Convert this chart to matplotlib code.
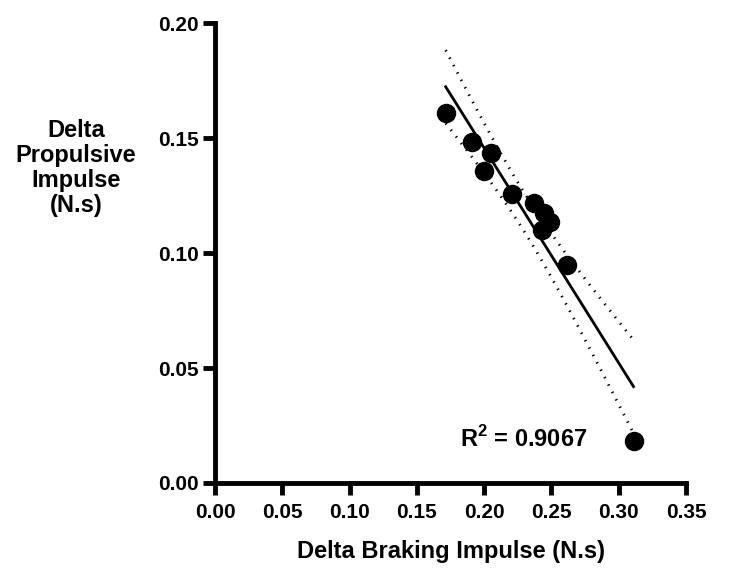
import numpy as np
import matplotlib
matplotlib.use("Agg")
import matplotlib.pyplot as plt

plt.rcParams['font.family'] = ['Liberation Sans', 'DejaVu Sans']
plt.rcParams['font.weight'] = 'bold'
plt.rcParams['mathtext.fontset'] = 'custom'
plt.rcParams['mathtext.rm'] = 'Liberation Sans:bold'
plt.rcParams['mathtext.bf'] = 'Liberation Sans:bold'

# data
braking = [0.1714, 0.1913, 0.2051, 0.1996, 0.2210, 0.2370, 0.2444, 0.2489, 0.2427, 0.2613, 0.3110]
propulsive = [0.1607, 0.1484, 0.1436, 0.1358, 0.1257, 0.1216, 0.1175, 0.1136, 0.1100, 0.0948, 0.0183]
r2_text = r"R$^{\mathbf{2}}$ = 0.9067"
x_ticks = [0.00, 0.05, 0.10, 0.15, 0.20, 0.25, 0.30, 0.35]
y_ticks = [0.00, 0.05, 0.10, 0.15, 0.20]

x = np.array(braking)
y = np.array(propulsive)

# linear fit + 95% confidence band
slope, inter = np.polyfit(x, y, 1)
n = len(x)
resid = y - (slope * x + inter)
s = np.sqrt(np.sum(resid ** 2) / (n - 2))
t = 2.262  # t(0.975, df=9)
xs = np.linspace(x.min(), x.max(), 100)
ys = slope * xs + inter
se = s * np.sqrt(1.0 / n + (xs - x.mean()) ** 2 / np.sum((x - x.mean()) ** 2))

fig = plt.figure(figsize=(7.29, 5.72), dpi=100)
ax = fig.add_axes([0.295, 0.1556, 0.646, 0.804])

ax.plot(xs, ys, color='black', lw=2)
ax.plot(xs, ys + t * se, color='black', lw=2, linestyle=(0, (0.5, 2.5)))
ax.plot(xs, ys - t * se, color='black', lw=2, linestyle=(0, (0.5, 2.5)))
ax.plot(x, y, 'o', color='black', markersize=13, zorder=3)

ax.text(0.182, 0.019, r2_text, fontsize=17, fontweight='bold', va='center', ha='left')

ax.set_xlim(0, 0.35)
ax.set_ylim(0, 0.20)
ax.set_xticks(x_ticks)
ax.set_yticks(y_ticks)
ax.set_xticklabels(["%.2f" % v for v in x_ticks])
ax.set_yticklabels(["%.2f" % v for v in y_ticks])
ax.tick_params(axis='both', width=3.5, length=8.5, labelsize=15, direction='out')
ax.tick_params(axis='x', pad=6)
for lab in ax.get_xticklabels() + ax.get_yticklabels():
    lab.set_fontweight('bold')

for side in ['top', 'right']:
    ax.spines[side].set_visible(False)
for side in ['left', 'bottom']:
    ax.spines[side].set_linewidth(3.5)

ax.set_xlabel("Delta Braking Impulse (N.s)", fontsize=17, fontweight='bold', labelpad=13)
fig.text(0.104, 0.706, "Delta\nPropulsive\nImpulse\n(N.s)", fontsize=17, fontweight='bold',
         ha='center', va='center', linespacing=1.1)

fig.savefig("out.png", dpi=100)
